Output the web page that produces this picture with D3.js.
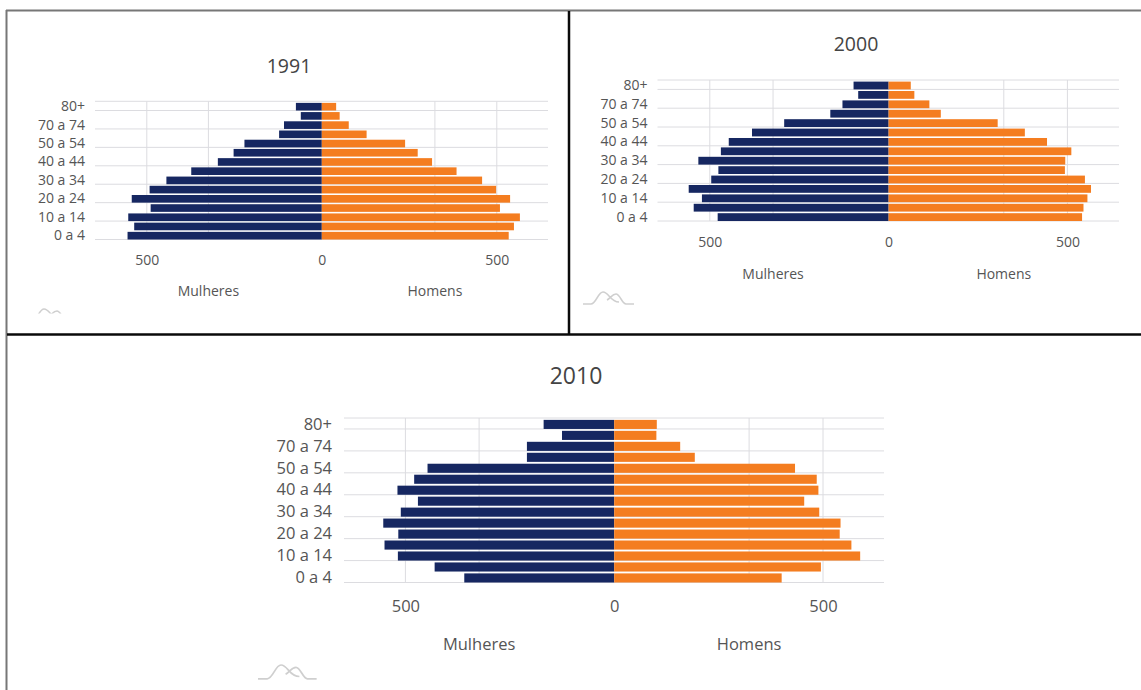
<!DOCTYPE html>
<html>
<head>
<meta charset="utf-8">
<script src="https://cdn.jsdelivr.net/npm/d3@7"></script>
<style>
    html, body { margin: 0; padding: 0; background: #fff; overflow: hidden; }
    svg { display: block; font-family: "Open Sans", sans-serif; }
    .tick text { fill: #555; }
    .domain { display: none; }
</style>
</head>
<body>
<div id="chart"></div>
<script>
// age groups, top to bottom (only every second one gets a label)
var categories = ["80+", "75 a 79", "70 a 74", "60 a 69", "50 a 54", "45 a 49", "40 a 44", "35 a 39",
    "30 a 34", "25 a 29", "20 a 24", "15 a 19", "10 a 14", "5 a 9", "0 a 4"];
var years = ["1991", "2000", "2010"];
var valueTicks = [-500, 0, 500];

var mulheres1991 = [74, 60, 108, 122, 221, 252, 297, 373, 444, 492, 543, 489, 553, 536, 555];
var homens1991 = [41, 51, 77, 128, 238, 274, 315, 385, 458, 498, 538, 509, 566, 549, 534];
var mulheres2000 = [98, 85, 129, 163, 292, 382, 447, 469, 532, 476, 496, 559, 522, 545, 478];
var homens2000 = [62, 72, 114, 146, 305, 381, 443, 511, 494, 493, 549, 566, 556, 545, 541];
var mulheres2010 = [169, 125, 209, 209, 447, 479, 519, 470, 511, 553, 517, 550, 518, 430, 359];
var homens2010 = [102, 101, 158, 193, 433, 485, 489, 455, 491, 542, 540, 568, 589, 495, 401];

var womenByYear = [mulheres1991, mulheres2000, mulheres2010];
var menByYear = [homens1991, homens2000, homens2010];

// where each panel sits on the page
var panels = [
    { left: 95, right: 548, zero: 321.8, pxPer500: 175, top: 101.3, bottom: 239.5, titleX: 289, titleY: 72.5, titleSize: 19.5, labelSize: 14, catPad: 10, tickMid: 260, nameY: 296, logoX: 24, logoY: 309, logoClip: 313.5 },
    { left: 657.5, right: 1119, zero: 888.6, pxPer500: 178.8, top: 80, bottom: 221, titleX: 856, titleY: 50.5, titleSize: 19.5, labelSize: 14, catPad: 10, tickMid: 241.7, nameY: 279, logoX: 583, logoY: 292, logoClip: 330 },
    { left: 344, right: 884, zero: 614.2, pxPer500: 208.8, top: 418, bottom: 582.5, titleX: 576, titleY: 384, titleSize: 23, labelSize: 16.5, catPad: 12, tickMid: 606.7, nameY: 650, logoX: 258, logoY: 665, logoClip: 690 }
];

var svgWidth = 1141;
var svgHeight = 690;

var svg = d3.select("#chart")
    .append("svg")
    .attr("width", svgWidth)
    .attr("height", svgHeight);

svg.append("rect")
    .attr("width", svgWidth)
    .attr("height", svgHeight)
    .attr("fill", "#fff");

function drawPyramid(p, i) {
    var chartGroup = svg.append("g");
    var women = womenByYear[i];
    var men = menByYear[i];

    var xScale = d3.scaleLinear()
        .domain([-500, 500])
        .range([p.zero - p.pxPer500, p.zero + p.pxPer500]);

    // bars sit on the bottom edge of their row
    var yScale = d3.scaleBand()
        .domain(categories)
        .range([p.top, p.bottom])
        .paddingInner(0.17)
        .paddingOuter(0.085)
        .align(1);

    var labelled = categories.filter((d, j) => j % 2 == 0);

    // vertical grid: ticks plus the middle of each half of the plot
    var gridX = [xScale(-500), (p.left + p.zero) / 2, (p.right + p.zero) / 2, xScale(500)];
    chartGroup.append("g").selectAll("line")
        .data(gridX)
        .enter()
        .append("line")
        .attr("x1", d => d)
        .attr("x2", d => d)
        .attr("y1", p.top)
        .attr("y2", p.bottom)
        .attr("stroke", "#dcdce0")
        .attr("stroke-width", 1);

    // horizontal grid: top edge, then the bottom of each labelled row
    var gridY = [p.top].concat(labelled.map(d => yScale(d) + yScale.bandwidth()));
    chartGroup.append("g").selectAll("line")
        .data(gridY)
        .enter()
        .append("line")
        .attr("x1", p.left)
        .attr("x2", p.right)
        .attr("y1", d => d)
        .attr("y2", d => d)
        .attr("stroke", "#dcdce0")
        .attr("stroke-width", 1);

    // bars
    chartGroup.append("g").selectAll("rect")
        .data(women)
        .enter()
        .append("rect")
        .attr("x", d => xScale(-d))
        .attr("y", (d, j) => yScale(categories[j]))
        .attr("width", d => xScale(0) - xScale(-d))
        .attr("height", yScale.bandwidth())
        .attr("fill", "#162761");

    chartGroup.append("g").selectAll("rect")
        .data(men)
        .enter()
        .append("rect")
        .attr("x", xScale(0))
        .attr("y", (d, j) => yScale(categories[j]))
        .attr("width", d => xScale(d) - xScale(0))
        .attr("height", yScale.bandwidth())
        .attr("fill", "#f47d20");

    // axes
    var leftAxis = d3.axisLeft(yScale)
        .tickValues(labelled)
        .tickSize(0)
        .tickPadding(p.catPad);

    chartGroup.append("g")
        .attr("transform", `translate(${p.left}, 0)`)
        .call(leftAxis)
        .selectAll("text")
        .attr("font-size", p.labelSize)
        .attr("font-family", "Open Sans");

    var bottomAxis = d3.axisBottom(xScale)
        .tickValues(valueTicks)
        .tickFormat(d => Math.abs(d))
        .tickSize(0)
        .tickPadding(0);

    chartGroup.append("g")
        .attr("transform", `translate(0, ${p.tickMid - 0.36 * p.labelSize})`)
        .call(bottomAxis)
        .selectAll("text")
        .attr("font-size", p.labelSize)
        .attr("font-family", "Open Sans");

    // title and side names
    chartGroup.append("text")
        .attr("x", p.titleX)
        .attr("y", p.titleY)
        .attr("text-anchor", "middle")
        .attr("font-size", p.titleSize)
        .attr("fill", "#444")
        .text(years[i]);

    chartGroup.selectAll(".axisName")
        .data([["Mulheres", (p.left + p.zero) / 2], ["Homens", (p.right + p.zero) / 2]])
        .enter()
        .append("text")
        .attr("class", "axisName")
        .attr("x", d => d[1])
        .attr("y", p.nameY)
        .attr("text-anchor", "middle")
        .attr("font-size", p.labelSize)
        .attr("fill", "#555")
        .text(d => d[0]);

    // little grey logo under each chart
    var clipId = "logoClip" + i;
    svg.append("clipPath")
        .attr("id", clipId)
        .append("rect")
        .attr("x", 0)
        .attr("y", 0)
        .attr("width", svgWidth)
        .attr("height", p.logoClip);

    var logoScale = i == 2 ? 1.15 : 1;
    chartGroup.append("g")
        .attr("clip-path", `url(#${clipId})`)
        .append("path")
        .attr("transform", `translate(${p.logoX}, ${p.logoY}) scale(${logoScale})`)
        .attr("d", "M0,12 H8 C13,12 15,0 20,0 C26,0 27,10 36,10 M24,8 C28,6 29,2 33,2 C37,2 39,12 43,12 H51")
        .attr("fill", "none")
        .attr("stroke", "#cfcfcf")
        .attr("stroke-width", 1.5);
}

panels.forEach(drawPyramid);

// the frames round the three screenshots
var frames = [
    { x1: 6, y1: 10.5, x2: 1141, y2: 10.5, color: "#777", w: 2 },
    { x1: 6.5, y1: 10, x2: 6.5, y2: 690, color: "#777", w: 2 },
    { x1: 7, y1: 334.5, x2: 1141, y2: 334.5, color: "#0a0a0a", w: 2.5 },
    { x1: 569, y1: 11, x2: 569, y2: 334, color: "#0a0a0a", w: 2.5 }
];

svg.append("g").selectAll("line")
    .data(frames)
    .enter()
    .append("line")
    .attr("x1", d => d.x1)
    .attr("y1", d => d.y1)
    .attr("x2", d => d.x2)
    .attr("y2", d => d.y2)
    .attr("stroke", d => d.color)
    .attr("stroke-width", d => d.w);
</script>
</body>
</html>
